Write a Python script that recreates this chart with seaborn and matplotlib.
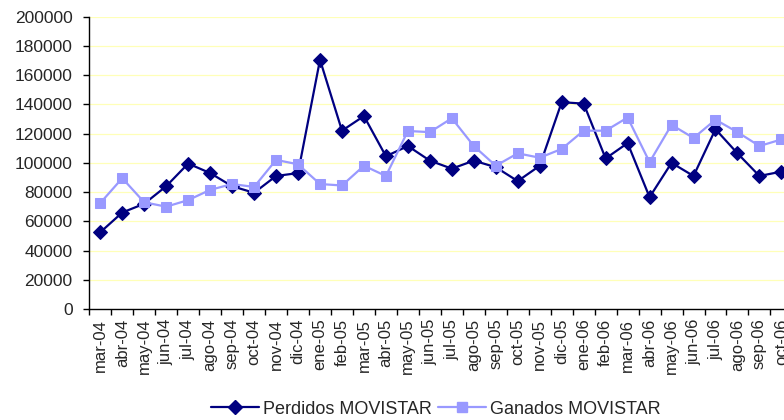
import matplotlib
matplotlib.use('Agg')
import matplotlib.pyplot as plt
from matplotlib.lines import Line2D
import numpy as np
import pandas as pd
import seaborn as sns

months = ['mar-04', 'abr-04', 'may-04', 'jun-04', 'jul-04', 'ago-04', 'sep-04', 'oct-04',
          'nov-04', 'dic-04', 'ene-05', 'feb-05', 'mar-05', 'abr-05', 'may-05', 'jun-05',
          'jul-05', 'ago-05', 'sep-05', 'oct-05', 'nov-05', 'dic-05', 'ene-06', 'feb-06',
          'mar-06', 'abr-06', 'may-06', 'jun-06', 'jul-06', 'ago-06', 'sep-06', 'oct-06']

perdidos = [52500, 66000, 72000, 84000, 99500, 93000, 84000, 79500,
            91000, 93000, 170500, 122000, 132000, 104500, 111500, 101500,
            96000, 101500, 97000, 87500, 98000, 141500, 140500, 103000,
            113500, 76500, 100000, 91000, 123000, 106500, 91000, 94000]

ganados = [72500, 89500, 73000, 70000, 74500, 81500, 85500, 83500,
           102000, 99000, 85500, 84500, 98000, 91000, 121800, 121000,
           130500, 111500, 98000, 106500, 103500, 109500, 122000, 122000,
           131000, 100500, 126000, 117000, 129500, 121000, 111500, 116000]

series_names = ['Perdidos MOVISTAR', 'Ganados MOVISTAR']
y_ticks = list(range(0, 200001, 20000))

df = pd.DataFrame({
    'mes': months * 2,
    'valor': perdidos + ganados,
    'serie': [series_names[0]] * len(months) + [series_names[1]] * len(months),
})

sns.set_theme(style='white')
plt.rcParams['font.family'] = ['Liberation Sans', 'DejaVu Sans']

colors = {series_names[0]: '#000080', series_names[1]: '#9999FF'}
markers = {series_names[0]: 'D', series_names[1]: 's'}

fig = plt.figure(figsize=(7.84, 4.2), dpi=100)
# axes runs a little past the right edge, like the cropped original
ax = fig.add_axes([0.1139, 0.2643, 0.8968, 0.6960])

ax.set_axisbelow(True)
for yv in y_ticks[1:]:
    ax.axhline(yv, color='#FFFFB8', lw=0.9, zorder=0)

for name in series_names:
    sub = df[df['serie'] == name]
    sns.lineplot(data=sub, x='mes', y='valor', ax=ax, color=colors[name],
                 marker=markers[name], markersize=7.5 if name == series_names[1] else 7,
                 markeredgecolor=colors[name], linewidth=1.6, sort=False,
                 label=name, legend=False)

ax.set_xlim(-0.5, len(months) - 0.5)
ax.set_ylim(0, 200000)
ax.set_yticks(y_ticks)
ax.set_yticklabels([str(v) for v in y_ticks], fontsize=12.5)
ax.tick_params(axis='y', length=4, width=1, pad=8, color='black', direction='out', left=True)

# ticks between categories, labels at the categories
ax.set_xticks(np.arange(len(months) + 1) - 0.5)
ax.set_xticklabels([])
ax.set_xticks(np.arange(len(months)), minor=True)
ax.set_xticklabels(months, minor=True, rotation=90, fontsize=12)
ax.tick_params(axis='x', which='major', length=4.5, width=1, color='black', direction='out', bottom=True)
ax.tick_params(axis='x', which='minor', length=0, pad=7)

ax.set_xlabel('')
ax.set_ylabel('')
for side in ['top', 'right']:
    ax.spines[side].set_visible(False)
for side in ['left', 'bottom']:
    ax.spines[side].set_color('black')
    ax.spines[side].set_linewidth(1)

handles = [Line2D([], [], color=colors[n], marker=markers[n], markersize=7,
                  markeredgecolor=colors[n], linewidth=1.6) for n in series_names]
fig.legend(handles, series_names, loc='center', bbox_to_anchor=(0.556, 0.026), ncol=2,
           frameon=False, fontsize=13, handlelength=2.65, columnspacing=0.3,
           handletextpad=0.25, borderpad=0, borderaxespad=0)

fig.savefig('out.png', dpi=100)
